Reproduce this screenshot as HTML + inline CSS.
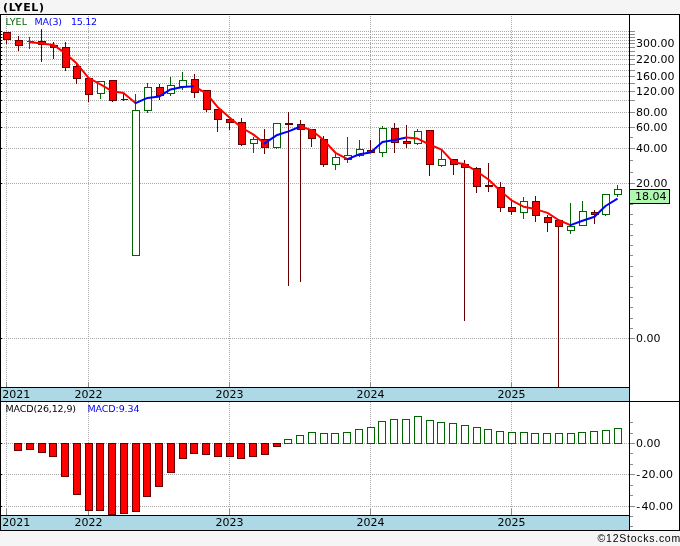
<!DOCTYPE html>
<html lang="en"><head><meta charset="utf-8"><title>(LYEL)</title>
<style>html,body{margin:0;padding:0;background:#f5f5f5;}svg{display:block;}text{font-family:"DejaVu Sans","Liberation Sans",sans-serif;}.ax{font-size:11px;fill:#000;}.lg{font-size:9.5px;}.cp{font-family:"Liberation Sans",sans-serif;font-size:10.5px;fill:#000;}.t{font-weight:bold;font-size:11px;fill:#000;}</style></head><body>
<svg width="680" height="546" viewBox="0 0 680 546">
<rect x="0" y="0" width="680" height="546" fill="#f5f5f5"/>
<g shape-rendering="crispEdges">
<rect x="0.5" y="14.5" width="679" height="516" fill="#ffffff" stroke="#000" stroke-width="1"/>
<rect x="1" y="388" width="628" height="13" fill="#add8e6"/>
<rect x="1" y="516" width="628" height="14" fill="#add8e6"/>
<line x1="2" x2="629" y1="31.5" y2="31.5" stroke="#a8a8a8" stroke-width="1" stroke-dasharray="1 1"/>
<line x1="2" x2="629" y1="34.5" y2="34.5" stroke="#a8a8a8" stroke-width="1" stroke-dasharray="1 1"/>
<line x1="2" x2="629" y1="37.5" y2="37.5" stroke="#a8a8a8" stroke-width="1" stroke-dasharray="1 1"/>
<line x1="2" x2="629" y1="40.5" y2="40.5" stroke="#a8a8a8" stroke-width="1" stroke-dasharray="1 1"/>
<line x1="2" x2="629" y1="43.5" y2="43.5" stroke="#a8a8a8" stroke-width="1" stroke-dasharray="1 1"/>
<line x1="2" x2="629" y1="47.5" y2="47.5" stroke="#a8a8a8" stroke-width="1" stroke-dasharray="1 1"/>
<line x1="2" x2="629" y1="51.5" y2="51.5" stroke="#a8a8a8" stroke-width="1" stroke-dasharray="1 1"/>
<line x1="2" x2="629" y1="55.5" y2="55.5" stroke="#a8a8a8" stroke-width="1" stroke-dasharray="1 1"/>
<line x1="2" x2="629" y1="59.5" y2="59.5" stroke="#a8a8a8" stroke-width="1" stroke-dasharray="1 1"/>
<line x1="2" x2="629" y1="64.5" y2="64.5" stroke="#a8a8a8" stroke-width="1" stroke-dasharray="1 1"/>
<line x1="2" x2="629" y1="70.5" y2="70.5" stroke="#a8a8a8" stroke-width="1" stroke-dasharray="1 1"/>
<line x1="2" x2="629" y1="76.5" y2="76.5" stroke="#a8a8a8" stroke-width="1" stroke-dasharray="1 1"/>
<line x1="2" x2="629" y1="83.5" y2="83.5" stroke="#a8a8a8" stroke-width="1" stroke-dasharray="1 1"/>
<line x1="2" x2="629" y1="91.5" y2="91.5" stroke="#a8a8a8" stroke-width="1" stroke-dasharray="1 1"/>
<line x1="2" x2="629" y1="100.5" y2="100.5" stroke="#a8a8a8" stroke-width="1" stroke-dasharray="1 1"/>
<line x1="2" x2="629" y1="112.5" y2="112.5" stroke="#a8a8a8" stroke-width="1" stroke-dasharray="1 1"/>
<line x1="2" x2="629" y1="127.5" y2="127.5" stroke="#a8a8a8" stroke-width="1" stroke-dasharray="1 1"/>
<line x1="2" x2="629" y1="148.5" y2="148.5" stroke="#a8a8a8" stroke-width="1" stroke-dasharray="1 1"/>
<line x1="2" x2="629" y1="183.5" y2="183.5" stroke="#a8a8a8" stroke-width="1" stroke-dasharray="1 1"/>
<line x1="2" x2="629" y1="338.5" y2="338.5" stroke="#a8a8a8" stroke-width="1" stroke-dasharray="1 1"/>
<line x1="2" x2="629" y1="443.5" y2="443.5" stroke="#a8a8a8" stroke-width="1" stroke-dasharray="1 1"/>
<line x1="2" x2="629" y1="474.5" y2="474.5" stroke="#a8a8a8" stroke-width="1" stroke-dasharray="1 1"/>
<line x1="2" x2="629" y1="506.5" y2="506.5" stroke="#a8a8a8" stroke-width="1" stroke-dasharray="1 1"/>
<line x1="6.5" x2="6.5" y1="16" y2="382" stroke="#a8a8a8" stroke-width="1" stroke-dasharray="1 1"/>
<line x1="6.5" x2="6.5" y1="382" y2="387" stroke="#8c8c8c" stroke-width="1"/>
<line x1="6.5" x2="6.5" y1="402" y2="509" stroke="#a8a8a8" stroke-width="1" stroke-dasharray="1 1"/>
<line x1="6.5" x2="6.5" y1="509" y2="515" stroke="#8c8c8c" stroke-width="1"/>
<line x1="88.5" x2="88.5" y1="16" y2="382" stroke="#a8a8a8" stroke-width="1" stroke-dasharray="1 1"/>
<line x1="88.5" x2="88.5" y1="382" y2="387" stroke="#8c8c8c" stroke-width="1"/>
<line x1="88.5" x2="88.5" y1="402" y2="509" stroke="#a8a8a8" stroke-width="1" stroke-dasharray="1 1"/>
<line x1="88.5" x2="88.5" y1="509" y2="515" stroke="#8c8c8c" stroke-width="1"/>
<line x1="229.5" x2="229.5" y1="16" y2="382" stroke="#a8a8a8" stroke-width="1" stroke-dasharray="1 1"/>
<line x1="229.5" x2="229.5" y1="382" y2="387" stroke="#8c8c8c" stroke-width="1"/>
<line x1="229.5" x2="229.5" y1="402" y2="509" stroke="#a8a8a8" stroke-width="1" stroke-dasharray="1 1"/>
<line x1="229.5" x2="229.5" y1="509" y2="515" stroke="#8c8c8c" stroke-width="1"/>
<line x1="370.5" x2="370.5" y1="16" y2="382" stroke="#a8a8a8" stroke-width="1" stroke-dasharray="1 1"/>
<line x1="370.5" x2="370.5" y1="382" y2="387" stroke="#8c8c8c" stroke-width="1"/>
<line x1="370.5" x2="370.5" y1="402" y2="509" stroke="#a8a8a8" stroke-width="1" stroke-dasharray="1 1"/>
<line x1="370.5" x2="370.5" y1="509" y2="515" stroke="#8c8c8c" stroke-width="1"/>
<line x1="511.5" x2="511.5" y1="16" y2="382" stroke="#a8a8a8" stroke-width="1" stroke-dasharray="1 1"/>
<line x1="511.5" x2="511.5" y1="382" y2="387" stroke="#8c8c8c" stroke-width="1"/>
<line x1="511.5" x2="511.5" y1="402" y2="509" stroke="#a8a8a8" stroke-width="1" stroke-dasharray="1 1"/>
<line x1="511.5" x2="511.5" y1="509" y2="515" stroke="#8c8c8c" stroke-width="1"/>
<rect x="1" y="31" width="1" height="1" fill="#000"/>
<rect x="1" y="34" width="1" height="1" fill="#000"/>
<rect x="1" y="37" width="1" height="1" fill="#000"/>
<rect x="1" y="40" width="1" height="1" fill="#000"/>
<rect x="1" y="43" width="1" height="1" fill="#000"/>
<rect x="1" y="47" width="1" height="1" fill="#000"/>
<rect x="1" y="51" width="1" height="1" fill="#000"/>
<rect x="1" y="55" width="1" height="1" fill="#000"/>
<rect x="1" y="59" width="1" height="1" fill="#000"/>
<rect x="1" y="64" width="1" height="1" fill="#000"/>
<rect x="1" y="70" width="1" height="1" fill="#000"/>
<rect x="1" y="76" width="1" height="1" fill="#000"/>
<rect x="1" y="83" width="1" height="1" fill="#000"/>
<rect x="1" y="91" width="1" height="1" fill="#000"/>
<rect x="1" y="100" width="1" height="1" fill="#000"/>
<rect x="1" y="112" width="1" height="1" fill="#000"/>
<rect x="1" y="127" width="1" height="1" fill="#000"/>
<rect x="1" y="148" width="1" height="1" fill="#000"/>
<rect x="1" y="183" width="1" height="1" fill="#000"/>
<rect x="1" y="338" width="1" height="1" fill="#000"/>
<rect x="1" y="443" width="1" height="1" fill="#000"/>
<rect x="1" y="474" width="1" height="1" fill="#000"/>
<rect x="1" y="506" width="1" height="1" fill="#000"/>
<line x1="630" x2="635" y1="31.5" y2="31.5" stroke="#8c8c8c" stroke-width="1"/>
<line x1="630" x2="635" y1="34.5" y2="34.5" stroke="#8c8c8c" stroke-width="1"/>
<line x1="630" x2="635" y1="37.5" y2="37.5" stroke="#8c8c8c" stroke-width="1"/>
<line x1="630" x2="635" y1="40.5" y2="40.5" stroke="#8c8c8c" stroke-width="1"/>
<line x1="630" x2="635" y1="43.5" y2="43.5" stroke="#8c8c8c" stroke-width="1"/>
<line x1="630" x2="635" y1="47.5" y2="47.5" stroke="#8c8c8c" stroke-width="1"/>
<line x1="630" x2="635" y1="51.5" y2="51.5" stroke="#8c8c8c" stroke-width="1"/>
<line x1="630" x2="635" y1="55.5" y2="55.5" stroke="#8c8c8c" stroke-width="1"/>
<line x1="630" x2="635" y1="59.5" y2="59.5" stroke="#8c8c8c" stroke-width="1"/>
<line x1="630" x2="635" y1="64.5" y2="64.5" stroke="#8c8c8c" stroke-width="1"/>
<line x1="630" x2="635" y1="70.5" y2="70.5" stroke="#8c8c8c" stroke-width="1"/>
<line x1="630" x2="635" y1="76.5" y2="76.5" stroke="#8c8c8c" stroke-width="1"/>
<line x1="630" x2="635" y1="83.5" y2="83.5" stroke="#8c8c8c" stroke-width="1"/>
<line x1="630" x2="635" y1="91.5" y2="91.5" stroke="#8c8c8c" stroke-width="1"/>
<line x1="630" x2="635" y1="100.5" y2="100.5" stroke="#8c8c8c" stroke-width="1"/>
<line x1="630" x2="635" y1="112.5" y2="112.5" stroke="#8c8c8c" stroke-width="1"/>
<line x1="630" x2="635" y1="127.5" y2="127.5" stroke="#8c8c8c" stroke-width="1"/>
<line x1="630" x2="635" y1="148.5" y2="148.5" stroke="#8c8c8c" stroke-width="1"/>
<line x1="630" x2="635" y1="183.5" y2="183.5" stroke="#8c8c8c" stroke-width="1"/>
<line x1="630" x2="635" y1="338.5" y2="338.5" stroke="#8c8c8c" stroke-width="1"/>
<line x1="630" x2="635" y1="443.5" y2="443.5" stroke="#8c8c8c" stroke-width="1"/>
<line x1="630" x2="635" y1="474.5" y2="474.5" stroke="#8c8c8c" stroke-width="1"/>
<line x1="630" x2="635" y1="506.5" y2="506.5" stroke="#8c8c8c" stroke-width="1"/>
<line x1="630" x2="633" y1="137.5" y2="137.5" stroke="#8c8c8c" stroke-width="1"/>
<line x1="630" x2="633" y1="160.5" y2="160.5" stroke="#8c8c8c" stroke-width="1"/>
<line x1="630" x2="633" y1="172.5" y2="172.5" stroke="#8c8c8c" stroke-width="1"/>
<line x1="630" x2="633" y1="204.5" y2="204.5" stroke="#8c8c8c" stroke-width="1"/>
<line x1="630" x2="633" y1="214.5" y2="214.5" stroke="#8c8c8c" stroke-width="1"/>
<line x1="630" x2="633" y1="224.5" y2="224.5" stroke="#8c8c8c" stroke-width="1"/>
<line x1="630" x2="633" y1="235.5" y2="235.5" stroke="#8c8c8c" stroke-width="1"/>
<line x1="630" x2="633" y1="245.5" y2="245.5" stroke="#8c8c8c" stroke-width="1"/>
<line x1="630" x2="633" y1="255.5" y2="255.5" stroke="#8c8c8c" stroke-width="1"/>
<line x1="630" x2="633" y1="266.5" y2="266.5" stroke="#8c8c8c" stroke-width="1"/>
<line x1="630" x2="633" y1="276.5" y2="276.5" stroke="#8c8c8c" stroke-width="1"/>
<line x1="630" x2="633" y1="287.5" y2="287.5" stroke="#8c8c8c" stroke-width="1"/>
<line x1="630" x2="633" y1="297.5" y2="297.5" stroke="#8c8c8c" stroke-width="1"/>
<line x1="630" x2="633" y1="307.5" y2="307.5" stroke="#8c8c8c" stroke-width="1"/>
<line x1="630" x2="633" y1="318.5" y2="318.5" stroke="#8c8c8c" stroke-width="1"/>
<line x1="630" x2="633" y1="328.5" y2="328.5" stroke="#8c8c8c" stroke-width="1"/>
<line x1="630" x2="633" y1="422.5" y2="422.5" stroke="#8c8c8c" stroke-width="1"/>
<line x1="630" x2="633" y1="433.5" y2="433.5" stroke="#8c8c8c" stroke-width="1"/>
<line x1="630" x2="633" y1="453.5" y2="453.5" stroke="#8c8c8c" stroke-width="1"/>
<line x1="630" x2="633" y1="464.5" y2="464.5" stroke="#8c8c8c" stroke-width="1"/>
<line x1="630" x2="633" y1="485.5" y2="485.5" stroke="#8c8c8c" stroke-width="1"/>
<line x1="630" x2="633" y1="495.5" y2="495.5" stroke="#8c8c8c" stroke-width="1"/>
<line x1="630" x2="633" y1="516.5" y2="516.5" stroke="#8c8c8c" stroke-width="1"/>
<line x1="630" x2="633" y1="526.5" y2="526.5" stroke="#8c8c8c" stroke-width="1"/>
</g>
<g shape-rendering="crispEdges">
<line x1="6.5" x2="6.5"  y1="40" y2="44" stroke="#660000" stroke-width="1"/>
<rect x="3.5" y="32.5" width="7" height="7" fill="#ff0000" stroke="#660000" stroke-width="1"/>
<line x1="18.5" x2="18.5"  y1="36" y2="40" stroke="#660000" stroke-width="1"/>
<line x1="18.5" x2="18.5"  y1="46" y2="51" stroke="#660000" stroke-width="1"/>
<rect x="15.5" y="40.5" width="7" height="5" fill="#ff0000" stroke="#660000" stroke-width="1"/>
<line x1="29.5" x2="29.5" y1="37" y2="49" stroke="#006400" stroke-width="1"/>
<rect x="27" y="41" width="7" height="1" fill="#006400"/>
<line x1="41.5" x2="41.5"  y1="29" y2="41" stroke="#660000" stroke-width="1"/>
<line x1="41.5" x2="41.5"  y1="45" y2="62" stroke="#660000" stroke-width="1"/>
<rect x="38.5" y="41.5" width="7" height="3" fill="#ff0000" stroke="#660000" stroke-width="1"/>
<line x1="53.5" x2="53.5"  y1="42" y2="45" stroke="#660000" stroke-width="1"/>
<line x1="53.5" x2="53.5"  y1="48" y2="59" stroke="#660000" stroke-width="1"/>
<rect x="50.5" y="45.5" width="7" height="2" fill="#ff0000" stroke="#660000" stroke-width="1"/>
<line x1="65.5" x2="65.5"  y1="42" y2="47" stroke="#660000" stroke-width="1"/>
<line x1="65.5" x2="65.5"  y1="68" y2="71" stroke="#660000" stroke-width="1"/>
<rect x="62.5" y="47.5" width="7" height="20" fill="#ff0000" stroke="#660000" stroke-width="1"/>
<line x1="76.5" x2="76.5"  y1="64" y2="66" stroke="#660000" stroke-width="1"/>
<line x1="76.5" x2="76.5"  y1="79" y2="84" stroke="#660000" stroke-width="1"/>
<rect x="73.5" y="66.5" width="7" height="12" fill="#ff0000" stroke="#660000" stroke-width="1"/>
<line x1="88.5" x2="88.5"  y1="95" y2="102" stroke="#660000" stroke-width="1"/>
<rect x="85.5" y="78.5" width="7" height="16" fill="#ff0000" stroke="#660000" stroke-width="1"/>
<line x1="100.5" x2="100.5"  y1="94" y2="99" stroke="#006400" stroke-width="1"/>
<rect x="97.5" y="81.5" width="7" height="12" fill="#ffffff" stroke="#006400" stroke-width="1"/>
<line x1="112.5" x2="112.5"  y1="101" y2="102" stroke="#660000" stroke-width="1"/>
<rect x="109.5" y="80.5" width="7" height="20" fill="#ff0000" stroke="#660000" stroke-width="1"/>
<line x1="123.5" x2="123.5" y1="93" y2="101" stroke="#660000" stroke-width="1"/>
<rect x="121" y="99" width="7" height="1" fill="#660000"/>
<line x1="135.5" x2="135.5"  y1="94" y2="110" stroke="#006400" stroke-width="1"/>
<rect x="132.5" y="110.5" width="7" height="145" fill="#ffffff" stroke="#006400" stroke-width="1"/>
<line x1="147.5" x2="147.5"  y1="83" y2="87" stroke="#006400" stroke-width="1"/>
<line x1="147.5" x2="147.5"  y1="111" y2="113" stroke="#006400" stroke-width="1"/>
<rect x="144.5" y="87.5" width="7" height="23" fill="#ffffff" stroke="#006400" stroke-width="1"/>
<line x1="159.5" x2="159.5"  y1="84" y2="87" stroke="#660000" stroke-width="1"/>
<line x1="159.5" x2="159.5"  y1="96" y2="100" stroke="#660000" stroke-width="1"/>
<rect x="156.5" y="87.5" width="7" height="8" fill="#ff0000" stroke="#660000" stroke-width="1"/>
<line x1="170.5" x2="170.5"  y1="77" y2="85" stroke="#006400" stroke-width="1"/>
<line x1="170.5" x2="170.5"  y1="94" y2="96" stroke="#006400" stroke-width="1"/>
<rect x="167.5" y="85.5" width="7" height="8" fill="#ffffff" stroke="#006400" stroke-width="1"/>
<line x1="182.5" x2="182.5"  y1="72" y2="80" stroke="#006400" stroke-width="1"/>
<line x1="182.5" x2="182.5"  y1="87" y2="90" stroke="#006400" stroke-width="1"/>
<rect x="179.5" y="80.5" width="7" height="6" fill="#ffffff" stroke="#006400" stroke-width="1"/>
<line x1="194.5" x2="194.5"  y1="74" y2="79" stroke="#660000" stroke-width="1"/>
<line x1="194.5" x2="194.5"  y1="93" y2="98" stroke="#660000" stroke-width="1"/>
<rect x="191.5" y="79.5" width="7" height="13" fill="#ff0000" stroke="#660000" stroke-width="1"/>
<line x1="206.5" x2="206.5"  y1="110" y2="112" stroke="#660000" stroke-width="1"/>
<rect x="203.5" y="90.5" width="7" height="19" fill="#ff0000" stroke="#660000" stroke-width="1"/>
<line x1="217.5" x2="217.5"  y1="120" y2="132" stroke="#660000" stroke-width="1"/>
<rect x="214.5" y="109.5" width="7" height="10" fill="#ff0000" stroke="#660000" stroke-width="1"/>
<line x1="229.5" x2="229.5"  y1="123" y2="130" stroke="#660000" stroke-width="1"/>
<rect x="226.5" y="119.5" width="7" height="3" fill="#ff0000" stroke="#660000" stroke-width="1"/>
<line x1="241.5" x2="241.5"  y1="118" y2="122" stroke="#660000" stroke-width="1"/>
<line x1="241.5" x2="241.5"  y1="145" y2="146" stroke="#660000" stroke-width="1"/>
<rect x="238.5" y="122.5" width="7" height="22" fill="#ff0000" stroke="#660000" stroke-width="1"/>
<line x1="253.5" x2="253.5"  y1="137" y2="139" stroke="#006400" stroke-width="1"/>
<line x1="253.5" x2="253.5"  y1="144" y2="153" stroke="#006400" stroke-width="1"/>
<rect x="250.5" y="139.5" width="7" height="4" fill="#ffffff" stroke="#006400" stroke-width="1"/>
<line x1="264.5" x2="264.5"  y1="129" y2="139" stroke="#660000" stroke-width="1"/>
<line x1="264.5" x2="264.5"  y1="148" y2="154" stroke="#660000" stroke-width="1"/>
<rect x="261.5" y="139.5" width="7" height="8" fill="#ff0000" stroke="#660000" stroke-width="1"/>
<line x1="276.5" x2="276.5"  y1="148" y2="149" stroke="#006400" stroke-width="1"/>
<rect x="273.5" y="123.5" width="7" height="24" fill="#ffffff" stroke="#006400" stroke-width="1"/>
<line x1="288.5" x2="288.5" y1="112" y2="286" stroke="#660000" stroke-width="1"/>
<rect x="285" y="123" width="8" height="2" fill="#660000"/>
<line x1="300.5" x2="300.5"  y1="120" y2="124" stroke="#660000" stroke-width="1"/>
<line x1="300.5" x2="300.5"  y1="130" y2="282" stroke="#660000" stroke-width="1"/>
<rect x="297.5" y="124.5" width="7" height="5" fill="#ff0000" stroke="#660000" stroke-width="1"/>
<line x1="311.5" x2="311.5"  y1="139" y2="147" stroke="#660000" stroke-width="1"/>
<rect x="308.5" y="129.5" width="7" height="9" fill="#ff0000" stroke="#660000" stroke-width="1"/>
<line x1="323.5" x2="323.5"  y1="136" y2="139" stroke="#660000" stroke-width="1"/>
<line x1="323.5" x2="323.5"  y1="165" y2="167" stroke="#660000" stroke-width="1"/>
<rect x="320.5" y="139.5" width="7" height="25" fill="#ff0000" stroke="#660000" stroke-width="1"/>
<line x1="335.5" x2="335.5"  y1="154" y2="157" stroke="#006400" stroke-width="1"/>
<line x1="335.5" x2="335.5"  y1="165" y2="170" stroke="#006400" stroke-width="1"/>
<rect x="332.5" y="157.5" width="7" height="7" fill="#ffffff" stroke="#006400" stroke-width="1"/>
<line x1="347.5" x2="347.5"  y1="137" y2="155" stroke="#006400" stroke-width="1"/>
<line x1="347.5" x2="347.5"  y1="160" y2="163" stroke="#006400" stroke-width="1"/>
<rect x="344.5" y="155.5" width="7" height="4" fill="#ffffff" stroke="#006400" stroke-width="1"/>
<line x1="359.5" x2="359.5"  y1="140" y2="149" stroke="#006400" stroke-width="1"/>
<line x1="359.5" x2="359.5"  y1="156" y2="157" stroke="#006400" stroke-width="1"/>
<rect x="356.5" y="149.5" width="7" height="6" fill="#ffffff" stroke="#006400" stroke-width="1"/>
<line x1="370.5" x2="370.5"  y1="140" y2="150" stroke="#660000" stroke-width="1"/>
<rect x="367.5" y="150.5" width="7" height="2" fill="#ff0000" stroke="#660000" stroke-width="1"/>
<line x1="382.5" x2="382.5"  y1="126" y2="128" stroke="#006400" stroke-width="1"/>
<line x1="382.5" x2="382.5"  y1="153" y2="157" stroke="#006400" stroke-width="1"/>
<rect x="379.5" y="128.5" width="7" height="24" fill="#ffffff" stroke="#006400" stroke-width="1"/>
<line x1="394.5" x2="394.5"  y1="123" y2="128" stroke="#660000" stroke-width="1"/>
<line x1="394.5" x2="394.5"  y1="143" y2="153" stroke="#660000" stroke-width="1"/>
<rect x="391.5" y="128.5" width="7" height="14" fill="#ff0000" stroke="#660000" stroke-width="1"/>
<line x1="406.5" x2="406.5"  y1="125" y2="141" stroke="#660000" stroke-width="1"/>
<line x1="406.5" x2="406.5"  y1="144" y2="148" stroke="#660000" stroke-width="1"/>
<rect x="403.5" y="141.5" width="7" height="2" fill="#ff0000" stroke="#660000" stroke-width="1"/>
<line x1="417.5" x2="417.5"  y1="129" y2="131" stroke="#006400" stroke-width="1"/>
<line x1="417.5" x2="417.5"  y1="144" y2="145" stroke="#006400" stroke-width="1"/>
<rect x="414.5" y="131.5" width="7" height="12" fill="#ffffff" stroke="#006400" stroke-width="1"/>
<line x1="429.5" x2="429.5"  y1="165" y2="176" stroke="#660000" stroke-width="1"/>
<rect x="426.5" y="130.5" width="7" height="34" fill="#ff0000" stroke="#660000" stroke-width="1"/>
<line x1="441.5" x2="441.5"  y1="149" y2="159" stroke="#006400" stroke-width="1"/>
<line x1="441.5" x2="441.5"  y1="166" y2="167" stroke="#006400" stroke-width="1"/>
<rect x="438.5" y="159.5" width="7" height="6" fill="#ffffff" stroke="#006400" stroke-width="1"/>
<line x1="453.5" x2="453.5"  y1="165" y2="175" stroke="#660000" stroke-width="1"/>
<rect x="450.5" y="159.5" width="7" height="5" fill="#ff0000" stroke="#660000" stroke-width="1"/>
<line x1="464.5" x2="464.5"  y1="160" y2="164" stroke="#660000" stroke-width="1"/>
<line x1="464.5" x2="464.5"  y1="168" y2="321" stroke="#660000" stroke-width="1"/>
<rect x="461.5" y="164.5" width="7" height="3" fill="#ff0000" stroke="#660000" stroke-width="1"/>
<line x1="476.5" x2="476.5"  y1="167" y2="168" stroke="#660000" stroke-width="1"/>
<line x1="476.5" x2="476.5"  y1="187" y2="193" stroke="#660000" stroke-width="1"/>
<rect x="473.5" y="168.5" width="7" height="18" fill="#ff0000" stroke="#660000" stroke-width="1"/>
<line x1="488.5" x2="488.5" y1="163" y2="192" stroke="#660000" stroke-width="1"/>
<rect x="485" y="185" width="8" height="2" fill="#660000"/>
<line x1="500.5" x2="500.5"  y1="182" y2="187" stroke="#660000" stroke-width="1"/>
<line x1="500.5" x2="500.5"  y1="208" y2="212" stroke="#660000" stroke-width="1"/>
<rect x="497.5" y="187.5" width="7" height="20" fill="#ff0000" stroke="#660000" stroke-width="1"/>
<line x1="511.5" x2="511.5"  y1="199" y2="207" stroke="#660000" stroke-width="1"/>
<line x1="511.5" x2="511.5"  y1="212" y2="215" stroke="#660000" stroke-width="1"/>
<rect x="508.5" y="207.5" width="7" height="4" fill="#ff0000" stroke="#660000" stroke-width="1"/>
<line x1="523.5" x2="523.5"  y1="197" y2="201" stroke="#006400" stroke-width="1"/>
<line x1="523.5" x2="523.5"  y1="213" y2="219" stroke="#006400" stroke-width="1"/>
<rect x="520.5" y="201.5" width="7" height="11" fill="#ffffff" stroke="#006400" stroke-width="1"/>
<line x1="535.5" x2="535.5"  y1="196" y2="201" stroke="#660000" stroke-width="1"/>
<line x1="535.5" x2="535.5"  y1="216" y2="222" stroke="#660000" stroke-width="1"/>
<rect x="532.5" y="201.5" width="7" height="14" fill="#ff0000" stroke="#660000" stroke-width="1"/>
<line x1="547.5" x2="547.5"  y1="215" y2="217" stroke="#660000" stroke-width="1"/>
<line x1="547.5" x2="547.5"  y1="223" y2="232" stroke="#660000" stroke-width="1"/>
<rect x="544.5" y="217.5" width="7" height="5" fill="#ff0000" stroke="#660000" stroke-width="1"/>
<line x1="558.5" x2="558.5"  y1="227" y2="387" stroke="#660000" stroke-width="1"/>
<rect x="555.5" y="220.5" width="7" height="6" fill="#ff0000" stroke="#660000" stroke-width="1"/>
<line x1="570.5" x2="570.5"  y1="203" y2="226" stroke="#006400" stroke-width="1"/>
<line x1="570.5" x2="570.5"  y1="231" y2="234" stroke="#006400" stroke-width="1"/>
<rect x="567.5" y="226.5" width="7" height="4" fill="#ffffff" stroke="#006400" stroke-width="1"/>
<line x1="582.5" x2="582.5"  y1="201" y2="211" stroke="#006400" stroke-width="1"/>
<rect x="579.5" y="211.5" width="7" height="14" fill="#ffffff" stroke="#006400" stroke-width="1"/>
<line x1="594.5" x2="594.5"  y1="210" y2="212" stroke="#660000" stroke-width="1"/>
<line x1="594.5" x2="594.5"  y1="215" y2="224" stroke="#660000" stroke-width="1"/>
<rect x="591.5" y="212.5" width="7" height="2" fill="#ff0000" stroke="#660000" stroke-width="1"/>
<line x1="605.5" x2="605.5"  y1="215" y2="216" stroke="#006400" stroke-width="1"/>
<rect x="602.5" y="194.5" width="7" height="20" fill="#ffffff" stroke="#006400" stroke-width="1"/>
<line x1="617.5" x2="617.5"  y1="185" y2="189" stroke="#006400" stroke-width="1"/>
<line x1="617.5" x2="617.5"  y1="195" y2="197" stroke="#006400" stroke-width="1"/>
<rect x="614.5" y="189.5" width="7" height="5" fill="#ffffff" stroke="#006400" stroke-width="1"/>
</g>
<g shape-rendering="crispEdges">
<rect x="14.5" y="443.5" width="7" height="7" fill="#ff0000" stroke="#660000" stroke-width="1"/>
<rect x="26.5" y="443.5" width="7" height="6" fill="#ff0000" stroke="#660000" stroke-width="1"/>
<rect x="38.5" y="443.5" width="7" height="9" fill="#ff0000" stroke="#660000" stroke-width="1"/>
<rect x="49.5" y="443.5" width="7" height="13" fill="#ff0000" stroke="#660000" stroke-width="1"/>
<rect x="61.5" y="443.5" width="7" height="33" fill="#ff0000" stroke="#660000" stroke-width="1"/>
<rect x="73.5" y="443.5" width="7" height="51" fill="#ff0000" stroke="#660000" stroke-width="1"/>
<rect x="85.5" y="443.5" width="7" height="67" fill="#ff0000" stroke="#660000" stroke-width="1"/>
<rect x="96.5" y="443.5" width="7" height="67" fill="#ff0000" stroke="#660000" stroke-width="1"/>
<rect x="108.5" y="443.5" width="7" height="71" fill="#ff0000" stroke="#660000" stroke-width="1"/>
<rect x="120.5" y="443.5" width="7" height="70" fill="#ff0000" stroke="#660000" stroke-width="1"/>
<rect x="132.5" y="443.5" width="7" height="68" fill="#ff0000" stroke="#660000" stroke-width="1"/>
<rect x="143.5" y="443.5" width="7" height="53" fill="#ff0000" stroke="#660000" stroke-width="1"/>
<rect x="155.5" y="443.5" width="7" height="43" fill="#ff0000" stroke="#660000" stroke-width="1"/>
<rect x="167.5" y="443.5" width="7" height="29" fill="#ff0000" stroke="#660000" stroke-width="1"/>
<rect x="179.5" y="443.5" width="7" height="15" fill="#ff0000" stroke="#660000" stroke-width="1"/>
<rect x="190.5" y="443.5" width="7" height="10" fill="#ff0000" stroke="#660000" stroke-width="1"/>
<rect x="202.5" y="443.5" width="7" height="11" fill="#ff0000" stroke="#660000" stroke-width="1"/>
<rect x="214.5" y="443.5" width="7" height="13" fill="#ff0000" stroke="#660000" stroke-width="1"/>
<rect x="226.5" y="443.5" width="7" height="13" fill="#ff0000" stroke="#660000" stroke-width="1"/>
<rect x="237.5" y="443.5" width="7" height="15" fill="#ff0000" stroke="#660000" stroke-width="1"/>
<rect x="249.5" y="443.5" width="7" height="13" fill="#ff0000" stroke="#660000" stroke-width="1"/>
<rect x="261.5" y="443.5" width="7" height="11" fill="#ff0000" stroke="#660000" stroke-width="1"/>
<rect x="273.5" y="443.5" width="7" height="3" fill="#ff0000" stroke="#660000" stroke-width="1"/>
<rect x="284.5" y="439.5" width="7" height="4" fill="#ffffff" stroke="#006400" stroke-width="1"/>
<rect x="296.5" y="435.5" width="7" height="8" fill="#ffffff" stroke="#006400" stroke-width="1"/>
<rect x="308.5" y="432.5" width="7" height="11" fill="#ffffff" stroke="#006400" stroke-width="1"/>
<rect x="320.5" y="433.5" width="7" height="10" fill="#ffffff" stroke="#006400" stroke-width="1"/>
<rect x="331.5" y="433.5" width="7" height="10" fill="#ffffff" stroke="#006400" stroke-width="1"/>
<rect x="343.5" y="432.5" width="7" height="11" fill="#ffffff" stroke="#006400" stroke-width="1"/>
<rect x="355.5" y="429.5" width="7" height="14" fill="#ffffff" stroke="#006400" stroke-width="1"/>
<rect x="367.5" y="427.5" width="7" height="16" fill="#ffffff" stroke="#006400" stroke-width="1"/>
<rect x="378.5" y="421.5" width="7" height="22" fill="#ffffff" stroke="#006400" stroke-width="1"/>
<rect x="390.5" y="419.5" width="7" height="24" fill="#ffffff" stroke="#006400" stroke-width="1"/>
<rect x="402.5" y="419.5" width="7" height="24" fill="#ffffff" stroke="#006400" stroke-width="1"/>
<rect x="414.5" y="416.5" width="7" height="27" fill="#ffffff" stroke="#006400" stroke-width="1"/>
<rect x="426.5" y="420.5" width="7" height="23" fill="#ffffff" stroke="#006400" stroke-width="1"/>
<rect x="437.5" y="422.5" width="7" height="21" fill="#ffffff" stroke="#006400" stroke-width="1"/>
<rect x="449.5" y="423.5" width="7" height="20" fill="#ffffff" stroke="#006400" stroke-width="1"/>
<rect x="461.5" y="425.5" width="7" height="18" fill="#ffffff" stroke="#006400" stroke-width="1"/>
<rect x="473.5" y="427.5" width="7" height="16" fill="#ffffff" stroke="#006400" stroke-width="1"/>
<rect x="484.5" y="429.5" width="7" height="14" fill="#ffffff" stroke="#006400" stroke-width="1"/>
<rect x="496.5" y="431.5" width="7" height="12" fill="#ffffff" stroke="#006400" stroke-width="1"/>
<rect x="508.5" y="432.5" width="7" height="11" fill="#ffffff" stroke="#006400" stroke-width="1"/>
<rect x="520.5" y="432.5" width="7" height="11" fill="#ffffff" stroke="#006400" stroke-width="1"/>
<rect x="531.5" y="433.5" width="7" height="10" fill="#ffffff" stroke="#006400" stroke-width="1"/>
<rect x="543.5" y="433.5" width="7" height="10" fill="#ffffff" stroke="#006400" stroke-width="1"/>
<rect x="555.5" y="433.5" width="7" height="10" fill="#ffffff" stroke="#006400" stroke-width="1"/>
<rect x="567.5" y="433.5" width="7" height="10" fill="#ffffff" stroke="#006400" stroke-width="1"/>
<rect x="578.5" y="432.5" width="7" height="11" fill="#ffffff" stroke="#006400" stroke-width="1"/>
<rect x="590.5" y="431.5" width="7" height="12" fill="#ffffff" stroke="#006400" stroke-width="1"/>
<rect x="602.5" y="430.5" width="7" height="13" fill="#ffffff" stroke="#006400" stroke-width="1"/>
<rect x="614.5" y="428.5" width="7" height="15" fill="#ffffff" stroke="#006400" stroke-width="1"/>
</g>
<polyline points="29.5,41.9 41.5,43.4 53.5,44.9 65.5,53.4 76.5,63.3 88.5,77.9 100.5,84.3 112.5,91.3 123.5,93.1 135.5,103.1" fill="none" stroke="#ff0000" stroke-width="2" stroke-linejoin="round" stroke-linecap="butt"/>
<polyline points="135.5,103.1 147.5,97.9 159.5,96.4 170.5,89.4 182.5,86.9 194.5,86.3" fill="none" stroke="#0000ff" stroke-width="2" stroke-linejoin="round" stroke-linecap="butt"/>
<circle cx="135.5" cy="103.1" r="1" fill="#0000ff"/>
<polyline points="194.5,86.3 206.5,93.7 217.5,106.9 229.5,117.6 241.5,127.5 253.5,134.6 264.5,143.4" fill="none" stroke="#ff0000" stroke-width="2" stroke-linejoin="round" stroke-linecap="butt"/>
<circle cx="194.5" cy="86.3" r="1" fill="#ff0000"/>
<polyline points="264.5,143.4 276.5,135.3 288.5,131.4 300.5,126.5" fill="none" stroke="#0000ff" stroke-width="2" stroke-linejoin="round" stroke-linecap="butt"/>
<circle cx="264.5" cy="143.4" r="1" fill="#0000ff"/>
<polyline points="300.5,126.5 311.5,130.1 323.5,140.0 335.5,152.8 347.5,159.1" fill="none" stroke="#ff0000" stroke-width="2" stroke-linejoin="round" stroke-linecap="butt"/>
<circle cx="300.5" cy="126.5" r="1" fill="#ff0000"/>
<polyline points="347.5,159.1 359.5,154.3 370.5,152.4 382.5,142.1 394.5,140.0 406.5,137.6" fill="none" stroke="#0000ff" stroke-width="2" stroke-linejoin="round" stroke-linecap="butt"/>
<circle cx="347.5" cy="159.1" r="1" fill="#0000ff"/>
<polyline points="406.5,137.6 417.5,138.6 429.5,144.5 441.5,149.6 453.5,162.5 464.5,164.1 476.5,171.2 488.5,179.5 500.5,191.0 511.5,200.3 523.5,206.7 535.5,209.1 547.5,212.9 558.5,220.0 570.5,225.1" fill="none" stroke="#ff0000" stroke-width="2" stroke-linejoin="round" stroke-linecap="butt"/>
<circle cx="406.5" cy="137.6" r="1" fill="#ff0000"/>
<polyline points="570.5,225.1 582.5,220.7 594.5,216.8 605.5,206.0 617.5,198.7" fill="none" stroke="#0000ff" stroke-width="2" stroke-linejoin="round" stroke-linecap="butt"/>
<circle cx="570.5" cy="225.1" r="1" fill="#0000ff"/>
<g shape-rendering="crispEdges">
<line x1="629.5" x2="629.5" y1="14" y2="531" stroke="#000" stroke-width="1"/>
<line x1="0" x2="630" y1="387.5" y2="387.5" stroke="#000" stroke-width="1"/>
<line x1="0" x2="680" y1="401.5" y2="401.5" stroke="#000" stroke-width="1"/>
<line x1="0" x2="630" y1="515.5" y2="515.5" stroke="#000" stroke-width="1"/>
<rect x="629.5" y="189.5" width="40" height="14" fill="#b0f7b0" stroke="#000" stroke-width="1"/>
</g>
<text class="t" x="3" y="10.7" textLength="41" lengthAdjust="spacing">(LYEL)</text>
<text class="lg" x="5.5" y="25" fill="#006400" textLength="21.5" lengthAdjust="spacing">LYEL</text>
<text class="lg" x="34.5" y="25" fill="#0000ff" textLength="27.5" lengthAdjust="spacing">MA(3)</text>
<text class="lg" x="71" y="25" fill="#0000ff" textLength="26" lengthAdjust="spacing">15.12</text>
<text class="lg" x="5.5" y="412" fill="#000" textLength="70.5" lengthAdjust="spacing">MACD(26,12,9)</text>
<text class="lg" x="87.5" y="412" fill="#0000ff" textLength="52" lengthAdjust="spacing">MACD:9.34</text>
<text class="ax" x="636" y="47.3">300.00</text>
<text class="ax" x="636" y="63.3">220.00</text>
<text class="ax" x="636" y="80.3">160.00</text>
<text class="ax" x="636" y="95.3">120.00</text>
<text class="ax" x="636" y="116.3">80.00</text>
<text class="ax" x="636" y="131.3">60.00</text>
<text class="ax" x="636" y="152.3">40.00</text>
<text class="ax" x="636" y="187.3">20.00</text>
<text class="ax" x="636" y="342.3">0.00</text>
<text class="ax" x="636" y="447.3">0.00</text>
<text class="ax" x="636.3" y="478.3">-<tspan dx="1.3">20.00</tspan></text>
<text class="ax" x="636.3" y="510.3">-<tspan dx="1.3">40.00</tspan></text>
<text class="ax" x="635" y="200">18.04</text>
<text class="ax" x="2.2" y="398">2021</text>
<text class="ax" x="2.2" y="526">2021</text>
<text class="ax" x="74.5" y="398">2022</text>
<text class="ax" x="74.5" y="526">2022</text>
<text class="ax" x="215.5" y="398">2023</text>
<text class="ax" x="215.5" y="526">2023</text>
<text class="ax" x="356.5" y="398">2024</text>
<text class="ax" x="356.5" y="526">2024</text>
<text class="ax" x="497.5" y="398">2025</text>
<text class="ax" x="497.5" y="526">2025</text>
<text class="cp" x="597.6" y="542" textLength="82.6" lengthAdjust="spacing">©12Stocks.com</text>
</svg></body></html>
